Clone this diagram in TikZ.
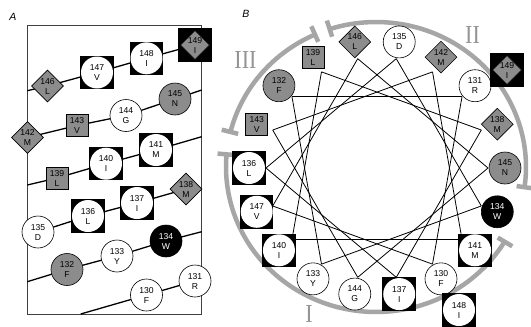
\documentclass[tikz,border=0pt]{standalone}
\usepackage{fontspec}
\setmainfont{Liberation Sans}
\newfontfamily\numeralfont{Liberation Serif}
\usetikzlibrary{shapes.geometric,backgrounds}

\definecolor{resgray}{gray}{0.55}
\definecolor{arcgray}{gray}{0.65}
\definecolor{romangray}{gray}{0.58}

\tikzset{
  res/.style={inner sep=0pt, align=center, line width=0.6pt,
    font=\fontsize{8.6}{10}\selectfont},
  wcirc/.style={res, circle, draw, fill=white, minimum size=32pt},
  gcirc/.style={res, circle, draw, fill=resgray, minimum size=32pt},
  bcirc/.style={res, circle, draw, fill=black, text=white, minimum size=32pt},
  bsq/.style={res, rectangle, fill=black, minimum size=33.5pt,
    path picture={\fill[white] (path picture bounding box.center) circle[radius=16pt];}},
  gsq/.style={res, rectangle, draw, fill=resgray, minimum size=22pt},
  gdia/.style={res, diamond, draw, fill=resgray, minimum width=32pt, minimum height=32pt},
  bsqdia/.style={res, rectangle, fill=black, minimum size=33.5pt,
    path picture={\filldraw[fill=resgray, draw=black, line width=0.6pt]
      ([xshift=-14.5pt]path picture bounding box.center) --
      ([yshift=14.5pt]path picture bounding box.center) --
      ([xshift=14.5pt]path picture bounding box.center) --
      ([yshift=-14.5pt]path picture bounding box.center) -- cycle;}},
  helix/.style={line width=1.3pt},
  wheel/.style={line width=0.8pt},
  frame/.style={draw=black!75, line width=0.8pt},
  sector/.style={draw=arcgray, line width=4.5pt},
  roman/.style={text=romangray, inner sep=0pt,
    font=\numeralfont\fontsize{26}{26}\selectfont},
  panel/.style={inner sep=0pt, font=\itshape\fontsize{10.5}{10.5}\selectfont}
}

\begin{document}
\begin{tikzpicture}[x=1pt, y=-1pt]
\useasboundingbox (0,0) rectangle (531,327);

% ---------- panel A: helical net ----------
\node[panel] (labA) at (13,16.5) {A};

\node[gdia]   (a146) at (47.5,86)    {146\\L};
\node[bsq]    (a147) at (97,72.5)    {147\\V};
\node[bsq]    (a148) at (146.5,58.3) {148\\I};
\node[bsqdia] (a149) at (195,45)     {149\\I};

\node[gdia]   (a142) at (27.5,137.5) {142\\M};
\node[gsq]    (a143) at (77,125.5)   {143\\V};
\node[wcirc]  (a144) at (126,115.5)  {144\\G};
\node[gcirc]  (a145) at (175,99)     {145\\N};

\node[gsq]    (a139) at (57,178)     {139\\L};
\node[bsq]    (a140) at (106,163.7)  {140\\I};
\node[bsq]    (a141) at (156,150)    {141\\M};

\node[wcirc]  (a135) at (38,232)     {135\\D};
\node[bsq]    (a136) at (88,216)     {136\\L};
\node[bsq]    (a137) at (137,203)    {137\\I};
\node[gdia]   (a138) at (186,189)    {138\\M};

\node[gcirc]  (a132) at (67,269.5)   {132\\F};
\node[wcirc]  (a133) at (117,256)    {133\\Y};
\node[bcirc]  (a134) at (166,241)    {134\\W};

\node[wcirc]  (a130) at (146.5,295)  {130\\F};
\node[wcirc]  (a131) at (195,281)    {131\\R};

% free ends of the helix strands on the frame
\coordinate (l1) at (27.3,90.7);
\coordinate (r2) at (201.7,90);
\coordinate (l3) at (27.3,185);
\coordinate (r3) at (201.7,136.7);
\coordinate (l5) at (27.3,281.7);
\coordinate (r5) at (201.7,231.7);
\coordinate (b6) at (80.7,314);

% ---------- panel B: helical wheel ----------
\node[panel] (labB) at (246,14) {B};

\foreach \n/\st/\l in {130/wcirc/F,131/wcirc/R,132/gcirc/F,133/wcirc/Y,
    134/bcirc/W,135/wcirc/D,136/bsq/L,137/bsq/I,138/gdia/M,139/gsq/L,
    140/bsq/I,141/bsq/M,142/gdia/M,143/gsq/V,144/wcirc/G,145/gcirc/N,
    146/gdia/L,147/bsq/V}{
  \pgfmathsetmacro{\ang}{-60+100*(\n-130)}
  \coordinate (v\n) at ({377+111*cos(\ang)},{168-111*sin(\ang)});
  \node[\st] (w\n) at ({377+128*cos(\ang)},{168-128*sin(\ang)}) {\n\\\l};
}
\node[bsq]    (w148) at (459,310) {148\\I};
\node[bsqdia] (w149) at (507,70)  {149\\I};

\node[roman] (rIII) at (245.5,60) {\scalebox{0.85}[1]{III}};
\node[roman] (rII)  at (472.5,35) {\scalebox{0.85}[1]{II}};
\node[roman] (rI)   at (309,314)  {\scalebox{0.85}[1]{I}};

\begin{pgfonlayer}{background}
  % frame of the net
  \draw[frame] (27.3,25.7) rectangle (201.7,314);
  % helix strands
  \draw[helix] (l1) -- (a146.center) -- (a147.center) -- (a148.center) -- (a149.center);
  \draw[helix] (a142.center) -- (a143.center) -- (a144.center) -- (a145.center) -- (r2);
  \draw[helix] (l3) -- (a139.center) -- (a140.center) -- (a141.center) -- (r3);
  \draw[helix] (a135.center) -- (a136.center) -- (a137.center) -- (a138.center);
  \draw[helix] (l5) -- (a132.center) -- (a133.center) -- (a134.center) -- (r5);
  \draw[helix] (b6) -- (a130.center) -- (a131.center);

  % wheel star, residue to residue
  \foreach \n [evaluate=\n as \m using {int(\n+1)}] in {130,...,146}
    \draw[wheel] (v\n) -- (v\m);
  \draw[wheel] (v147) -- (v130);

  % sectors I, II, III with radial end bars
  \draw[sector] plot[domain=31:185, samples=80] ({376+150*cos(\x)},{167+145*sin(\x)});
  \draw[sector] plot[domain=-108:8, samples=60] ({376+150*cos(\x)},{167+145*sin(\x)});
  \draw[sector] plot[domain=-166:-114, samples=30] ({376+150*cos(\x)},{167+145*sin(\x)});
  \foreach \t in {31,185,-108,8,-166,-114}
    \draw[sector] ({376+142*cos(\t)},{167+137*sin(\t)}) -- ({376+159*cos(\t)},{167+154*sin(\t)});
\end{pgfonlayer}
\end{tikzpicture}
\end{document}
